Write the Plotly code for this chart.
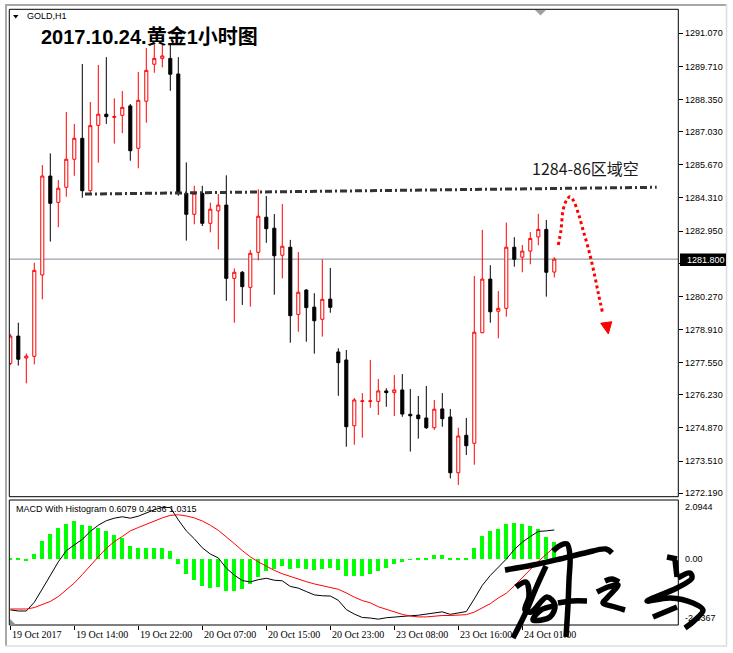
import plotly.graph_objects as go

W, H = 733, 653

# ---------------- data ----------------
bar_index = list(range(69))

opens = [1277.52, 1278.64, 1277.74, 1277.81, 1281.15, 1285.21, 1284.13, 1284.75, 1285.90, 1286.76,
         1284.61, 1287.29, 1287.75, 1287.62, 1287.70, 1288.09, 1286.35, 1288.28, 1289.80, 1290.04,
         1290.04, 1289.40, 1284.50, 1283.64, 1284.50, 1283.27, 1283.78, 1284.02, 1281.01, 1281.26,
         1280.64, 1282.08, 1283.52, 1283.07, 1281.96, 1282.29, 1279.53, 1280.53, 1279.83, 1279.33,
         1280.16, 1277.99, 1277.66, 1274.96, 1275.96, 1275.96, 1275.96, 1276.39, 1276.32, 1276.43,
         1275.43, 1275.40, 1275.28, 1274.88, 1275.65, 1275.32, 1273.03, 1274.57, 1274.24, 1278.78,
         1280.98, 1279.66, 1279.78, 1282.29, 1281.88, 1282.13, 1282.71, 1283.02, 1281.27]
closes = [1278.64, 1277.69, 1277.82, 1281.34, 1285.21, 1284.09, 1284.71, 1285.90, 1286.76, 1284.61,
          1287.28, 1287.75, 1287.65, 1287.65, 1288.03, 1286.25, 1288.32, 1289.55, 1290.04, 1290.14,
          1289.39, 1284.50, 1283.64, 1284.50, 1283.27, 1283.85, 1284.02, 1281.01, 1281.26, 1280.67,
          1282.04, 1283.56, 1283.05, 1281.94, 1282.33, 1279.48, 1280.44, 1279.81, 1279.27, 1280.15,
          1279.82, 1277.55, 1274.92, 1276.02, 1275.98, 1275.98, 1276.39, 1276.32, 1276.43, 1275.44,
          1275.37, 1275.25, 1274.88, 1275.64, 1275.25, 1273.03, 1274.54, 1274.14, 1278.80, 1280.98,
          1279.64, 1279.78, 1282.29, 1281.79, 1282.13, 1282.65, 1283.02, 1281.26, 1281.80]
highs = [1278.73, 1279.19, 1277.93, 1281.65, 1285.66, 1286.14, 1285.05, 1287.84, 1287.35, 1289.81,
         1288.25, 1289.77, 1290.09, 1288.40, 1288.70, 1288.17, 1289.48, 1290.47, 1290.63, 1290.59,
         1290.59, 1290.09, 1285.77, 1284.81, 1284.81, 1284.12, 1284.47, 1285.24, 1281.42, 1281.31,
         1282.17, 1284.67, 1284.39, 1283.65, 1284.06, 1282.59, 1282.09, 1280.57, 1280.40, 1281.79,
         1281.44, 1278.14, 1278.07, 1276.10, 1276.30, 1277.66, 1276.88, 1276.50, 1277.04, 1277.08,
         1276.47, 1276.18, 1276.59, 1276.02, 1276.30, 1275.65, 1274.88, 1275.28, 1281.11, 1283.00,
         1281.55, 1280.49, 1283.30, 1282.70, 1282.38, 1282.91, 1283.66, 1283.41, 1281.88]
lows = [1277.45, 1277.43, 1276.70, 1277.48, 1280.15, 1282.52, 1283.11, 1284.36, 1285.22, 1284.32,
        1284.47, 1285.76, 1287.35, 1286.54, 1286.97, 1285.84, 1285.53, 1287.40, 1289.45, 1289.67,
        1288.71, 1284.40, 1282.56, 1283.23, 1283.16, 1282.90, 1282.20, 1280.09, 1279.19, 1279.92,
        1279.85, 1281.75, 1282.47, 1280.34, 1281.01, 1278.37, 1278.82, 1278.41, 1277.92, 1278.62,
        1279.60, 1276.19, 1274.10, 1274.18, 1274.47, 1275.70, 1275.40, 1275.74, 1275.36, 1275.33,
        1273.90, 1274.43, 1274.83, 1274.79, 1274.92, 1272.80, 1272.53, 1273.76, 1273.36, 1278.76,
        1279.19, 1278.55, 1279.44, 1281.49, 1281.26, 1281.59, 1282.37, 1280.26, 1281.05]

macd_hist = [0.02, 0.02, -0.05, 0.18, 0.65, 0.89, 1.10, 1.24, 1.35, 1.21,
             1.17, 1.10, 1.00, 0.85, 0.73, 0.46, 0.41, 0.41, 0.41, 0.38,
             0.28, -0.18, -0.53, -0.74, -0.95, -1.02, -0.98, -1.12, -1.12, -1.06,
             -0.89, -0.63, -0.43, -0.35, -0.25, -0.35, -0.31, -0.35, -0.39, -0.35,
             -0.31, -0.39, -0.59, -0.60, -0.60, -0.54, -0.43, -0.31, -0.18, -0.09,
             -0.03, 0.02, 0.03, 0.13, 0.13, 0.02, 0.02, 0.03, 0.41, 0.82,
             0.98, 1.05, 1.23, 1.27, 1.23, 1.16, 1.05, 0.78, 0.6079]
macd_main = [-1.80, -1.84, -1.84, -1.53, -1.06, -0.57, -0.10, 0.30, 0.50, 0.70,
             0.98, 1.20, 1.36, 1.45, 1.50, 1.45, 1.52, 1.63, 1.75, 1.83,
             1.83, 1.39, 1.00, 0.72, 0.40, 0.18, 0.04, -0.32, -0.57, -0.76,
             -0.81, -0.73, -0.68, -0.75, -0.77, -0.97, -1.03, -1.15, -1.27, -1.30,
             -1.31, -1.46, -1.79, -1.95, -2.07, -2.09, -2.13, -2.08, -2.05, -2.02,
             -2.01, -1.99, -1.95, -1.89, -1.87, -1.96, -1.90, -1.86, -1.41, -0.93,
             -0.58, -0.30, 0.00, 0.34, 0.60, 0.80, 0.98, 1.00, 1.0315]
macd_signal = [-1.77, -1.77, -1.77, -1.72, -1.62, -1.50, -1.33, -1.10, -0.85, -0.55,
               -0.22, 0.08, 0.38, 0.62, 0.80, 1.00, 1.12, 1.24, 1.35, 1.46,
               1.55, 1.57, 1.53, 1.46, 1.35, 1.20, 1.02, 0.80, 0.55, 0.30,
               0.08, -0.10, -0.25, -0.40, -0.52, -0.62, -0.72, -0.80, -0.88, -0.95,
               -1.00, -1.07, -1.20, -1.35, -1.47, -1.55, -1.69, -1.78, -1.87, -1.96,
               -2.02, -2.05, -2.05, -2.02, -2.00, -2.00, -1.99, -1.97, -1.88, -1.73,
               -1.58, -1.38, -1.21, -0.95, -0.66, -0.37, -0.08, 0.17, 0.4236]

price_ticks = [1291.07, 1289.71, 1288.35, 1287.03, 1285.67, 1284.31, 1282.95, 1281.63,
               1280.27, 1278.91, 1277.55, 1276.23, 1274.87, 1273.51, 1272.19]
time_tick_index = [0, 8, 16, 24, 32, 40, 48, 56, 64]
time_tick_labels = ["19 Oct 2017", "19 Oct 14:00", "19 Oct 22:00", "20 Oct 07:00", "20 Oct 15:00",
                    "20 Oct 23:00", "23 Oct 08:00", "23 Oct 16:00", "24 Oct 01:00"]
last_price = 1281.80
macd_axis_labels = ["2.0944", "0.00", "-2.3367"]

# hand-drawn annotations (bar index, price)
resist_x = [9.34, 80.8]
resist_y = [1284.47, 1284.75]
forecast_x = [68.5, 68.84, 69.1, 69.55, 69.96, 70.4, 71.0, 71.6, 72.25, 72.9, 73.5, 74.05]
forecast_y = [1282.38, 1283.0, 1283.82, 1284.23, 1284.36, 1284.2, 1283.68, 1282.99, 1282.24,
              1281.35, 1280.4, 1279.57]
arrowhead_x = [73.8, 75.18, 74.75, 73.8]
arrowhead_y = [1279.17, 1279.23, 1278.73, 1279.17]

# signature strokes (pixel positions of the handwritten overlay)
signature = [
    [(505, 570), (533, 565), (560, 559), (585, 553), (606, 549), (612, 553)],
    [(553, 551), (561, 545), (567, 544), (570, 556), (569, 580), (568, 605), (566, 637)],
    [(546, 566), (536, 588), (526, 612), (513, 638)],
    [(516, 587), (526, 582), (529, 596), (525, 610), (531, 612), (547, 597), (555, 605),
     (550, 617), (533, 620), (541, 610), (554, 606)],
    [(558, 603), (572, 601), (587, 601)],
    [(605, 581), (612, 579), (619, 582)],
    [(597, 592), (608, 587), (618, 585), (607, 598), (603, 603), (615, 607), (625, 610)],
    [(667, 557), (677, 559)],
    [(675, 560), (677, 577)],
    [(678, 578), (690, 573), (692, 578), (677, 588), (647, 601), (670, 598), (693, 603),
     (703, 610), (695, 620), (685, 628)],
    [(653, 617), (677, 607)],
]

# ---------------- geometry ----------------
def px(x):
    return x / W


def py(y):
    return 1 - y / H


X_L, X_R = 9.3, 678.3
MAIN_T, MAIN_B = 9.3, 496.7
MACD_T, MACD_B = 500.0, 625.0
X_RANGE = [-0.125, 83.5]

fig = go.Figure()

fig.add_trace(go.Candlestick(
    x=bar_index, open=opens, high=highs, low=lows, close=closes,
    increasing=dict(line=dict(color="#ff0000", width=1), fillcolor="#ffffff"),
    decreasing=dict(line=dict(color="#000000", width=1), fillcolor="#000000"),
    whiskerwidth=0, showlegend=False, hoverinfo="skip", xaxis="x", yaxis="y"))

fig.add_trace(go.Scatter(x=resist_x, y=resist_y, mode="lines",
                         line=dict(color="#333333", width=3, dash="7px,3px,2px,3px"),
                         showlegend=False, hoverinfo="skip", xaxis="x", yaxis="y"))
fig.add_trace(go.Scatter(x=forecast_x, y=forecast_y, mode="lines", line_shape="spline",
                         line=dict(color="#ff0000", width=3, dash="dot"),
                         showlegend=False, hoverinfo="skip", xaxis="x", yaxis="y"))
fig.add_trace(go.Scatter(x=arrowhead_x, y=arrowhead_y, mode="lines", fill="toself",
                         fillcolor="#ff0000", line=dict(color="#ff0000", width=1),
                         showlegend=False, hoverinfo="skip", xaxis="x", yaxis="y"))

fig.add_trace(go.Bar(x=bar_index, y=macd_hist, width=0.45, marker=dict(color="#00ff00", line=dict(width=0)),
                     showlegend=False, hoverinfo="skip", xaxis="x2", yaxis="y2"))
fig.add_trace(go.Scatter(x=bar_index, y=macd_main, mode="lines", line=dict(color="#000000", width=1),
                         showlegend=False, hoverinfo="skip", xaxis="x2", yaxis="y2"))
fig.add_trace(go.Scatter(x=bar_index, y=macd_signal, mode="lines", line=dict(color="#ff0000", width=1),
                         showlegend=False, hoverinfo="skip", xaxis="x2", yaxis="y2"))

# signature overlay on a full-figure pixel axis
for stroke in signature:
    fig.add_trace(go.Scatter(x=[p[0] for p in stroke], y=[p[1] for p in stroke], mode="lines",
                             line=dict(color="#000000", width=5.5, shape="spline", smoothing=1.0),
                             showlegend=False, hoverinfo="skip", xaxis="x3", yaxis="y3"))

font_ax = dict(family="Liberation Sans, Arial, sans-serif", size=9, color="#000000")
# the 1281.630 label sits under the current-price box, so it is left blank
tick_text = ["" if abs(v - 1281.63) < 1e-6 else f"{v:.3f}" for v in price_ticks]

fig.update_layout(
    width=W, height=H,
    margin=dict(l=0, r=0, t=0, b=0, pad=0),
    paper_bgcolor="#ffffff", plot_bgcolor="rgba(0,0,0,0)",
    showlegend=False, boxgap=0.45, bargap=0,
    xaxis=dict(domain=[px(X_L), px(X_R)], anchor="y", range=X_RANGE, showticklabels=False,
               showgrid=False, zeroline=False, showline=False, ticks="",
               rangeslider=dict(visible=False), automargin=False, fixedrange=True),
    yaxis=dict(domain=[py(MAIN_B), py(MAIN_T)], anchor="x", side="right", range=[1272.048, 1292.055],
               tickvals=price_ticks, ticktext=tick_text,
               ticks="outside", ticklen=4, tickwidth=1, tickcolor="#000000", tickfont=font_ax,
               showgrid=False, zeroline=False, showline=False, automargin=False, fixedrange=True),
    xaxis2=dict(domain=[px(X_L), px(X_R)], anchor="y2", range=X_RANGE, tickvals=time_tick_index,
                showticklabels=False, ticks="outside", ticklen=4, tickwidth=1, tickcolor="#000000",
                showgrid=False, zeroline=False, showline=False, automargin=False, fixedrange=True),
    yaxis2=dict(domain=[py(MACD_B), py(MACD_T)], anchor="x2", side="right", range=[-2.3367, 2.0944],
                showticklabels=False, ticks="", showgrid=False, zeroline=False, showline=False,
                automargin=False, fixedrange=True),
    xaxis3=dict(domain=[0, 1], anchor="y3", range=[0, W], visible=False, fixedrange=True),
    yaxis3=dict(domain=[0, 1], anchor="x3", range=[H, 0], visible=False, fixedrange=True),
)

shapes = []
# window frame
shapes.append(dict(type="line", xref="paper", yref="paper", x0=px(6), x1=px(6), y0=py(4), y1=py(646),
                   line=dict(color="#a8a8a8", width=2)))
shapes.append(dict(type="line", xref="paper", yref="paper", x0=px(5), x1=px(727), y0=py(5), y1=py(5),
                   line=dict(color="#a8a8a8", width=2)))
shapes.append(dict(type="line", xref="paper", yref="paper", x0=px(726.5), x1=px(726.5), y0=py(4), y1=py(646),
                   line=dict(color="#dcdcdc", width=1.5)))
shapes.append(dict(type="line", xref="paper", yref="paper", x0=px(5), x1=px(727), y0=py(646), y1=py(646),
                   line=dict(color="#dcdcdc", width=1.5)))
# panel borders
shapes.append(dict(type="rect", xref="paper", yref="paper", x0=px(X_L), x1=px(X_R), y0=py(MAIN_B), y1=py(MAIN_T),
                   line=dict(color="#000000", width=1), layer="above"))
shapes.append(dict(type="rect", xref="paper", yref="paper", x0=px(X_L), x1=px(X_R), y0=py(MACD_B), y1=py(MACD_T),
                   line=dict(color="#000000", width=1), layer="above"))
# last price line
shapes.append(dict(type="line", xref="paper", yref="y", x0=px(X_L), x1=px(X_R), y0=last_price, y1=last_price,
                   line=dict(color="#7f8994", width=1), layer="below"))
# last price box
shapes.append(dict(type="rect", xref="paper", yref="paper", x0=px(680), x1=px(726), y0=py(266), y1=py(253.5),
                   fillcolor="#000000", line=dict(width=0), layer="above"))
# small markers
shapes.append(dict(type="path", xref="paper", yref="paper",
                   path=f"M{px(535)},{py(10)} L{px(546)},{py(10)} L{px(540.5)},{py(15.5)} Z",
                   fillcolor="#a0a0a0", line=dict(width=0), layer="above"))
shapes.append(dict(type="path", xref="paper", yref="paper",
                   path=f"M{px(10)},{py(619)} L{px(16)},{py(625)} L{px(10)},{py(625)} Z",
                   fillcolor="#8a9099", line=dict(width=0), layer="above"))
shapes.append(dict(type="path", xref="paper", yref="paper",
                   path=f"M{px(13)},{py(15)} L{px(18.5)},{py(15)} L{px(15.75)},{py(18.5)} Z",
                   fillcolor="#000000", line=dict(width=0), layer="above"))
fig.update_layout(shapes=shapes)

ann = []
ann.append(dict(text="GOLD,H1", xref="paper", yref="paper", x=px(24.5), y=py(16.5), xanchor="left",
                yanchor="middle", showarrow=False, font=dict(family="Liberation Sans, Arial", size=9, color="#000000")))
ann.append(dict(text="<b>2017.10.24.黄金1小时图</b>", xref="paper", yref="paper", x=px(39), y=py(36.5),
                xanchor="left", yanchor="middle", showarrow=False,
                font=dict(family="Liberation Sans, Noto Sans CJK SC, sans-serif", size=20, color="#000000")))
ann.append(dict(text="1284-86区域空", xref="paper", yref="paper", x=px(585), y=py(167.5), xanchor="center",
                yanchor="middle", showarrow=False,
                font=dict(family="Noto Sans CJK SC, sans-serif", size=16, color="#1a1a1a")))
ann.append(dict(text="MACD With Histogram 0.6079 0.4236 1.0315", xref="paper", yref="paper", x=px(14),
                y=py(509), xanchor="left", yanchor="middle", showarrow=False,
                font=dict(family="Liberation Sans, Arial", size=9, color="#000000")))
ann.append(dict(text=f"{last_price:.3f}", xref="paper", yref="paper", x=px(684.5), y=py(260), xanchor="left",
                yanchor="middle", showarrow=False, font=dict(family="Liberation Sans, Arial", size=9, color="#ffffff")))
for lab, yy in zip(macd_axis_labels, [507, 559, 618]):
    ann.append(dict(text=lab, xref="paper", yref="paper", x=px(682.5), y=py(yy), xanchor="left",
                    yanchor="middle", showarrow=False, font=font_ax))
for idx, lab in zip(time_tick_index, time_tick_labels):
    ann.append(dict(text=lab, xref="x2", yref="paper", x=idx, y=py(634.5), xanchor="left", xshift=0,
                    yanchor="middle", showarrow=False,
                    font=dict(family="Liberation Serif, Times New Roman, serif", size=10, color="#000000")))
fig.update_layout(annotations=ann)

fig.write_html("out.html")
